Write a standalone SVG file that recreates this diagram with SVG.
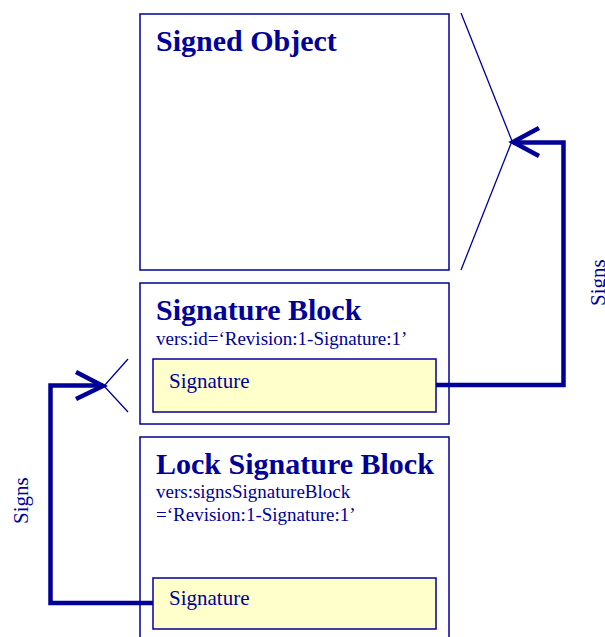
<svg xmlns="http://www.w3.org/2000/svg" width="605" height="637" viewBox="0 0 605 637">
<style>
.box{fill:#ffffff;stroke:#000099;stroke-width:1.5}
.sig{fill:#ffffcc;stroke:#000099;stroke-width:1.5}
.title{font-family:"Liberation Serif","Times New Roman",serif;font-weight:bold;font-size:30px;fill:#000099}
.sub{font-family:"Liberation Serif","Times New Roman",serif;font-size:19px;fill:#000099}
.lbl{font-family:"Liberation Serif","Times New Roman",serif;font-size:21px;fill:#000099}
.conn{fill:none;stroke:#000099;stroke-width:4.5;stroke-linejoin:miter}
.thin{fill:none;stroke:#000099;stroke-width:1.3}
</style>
<rect width="605" height="637" fill="#ffffff"/>
<g id="signed-object">
<rect class="box" x="140" y="14" width="309" height="256"/>
<text class="title" x="156" y="51">Signed Object</text>
</g>
<g id="signature-block">
<rect class="box" x="140" y="283" width="309" height="141"/>
<text class="title" x="156" y="320">Signature Block</text>
<text class="sub" x="156" y="345">vers:id=‘Revision:1-Signature:1’</text>
<g id="signature-1">
<rect class="sig" x="153" y="359" width="283" height="53"/>
<text class="lbl" x="169" y="388">Signature</text>
</g>
</g>
<g id="lock-signature-block">
<rect class="box" x="140" y="437" width="309" height="210"/>
<text class="title" x="156" y="474">Lock Signature Block</text>
<text class="sub" x="156" y="498">vers:signsSignatureBlock</text>
<text class="sub" x="156" y="521">=‘Revision:1-Signature:1’</text>
<g id="signature-2">
<rect class="sig" x="153" y="578" width="283" height="51"/>
<text class="lbl" x="169" y="605">Signature</text>
</g>
</g>
<g id="connectors">
<polyline class="thin" points="461,13 512,141 461,270"/>
<polyline class="conn" points="436,385 563.5,385 563.5,142.5 513,142.5"/>
<polyline class="conn" points="539,128 513,142 539,156"/>
<text class="lbl" transform="translate(605,306) rotate(-90)">Signs</text>
<polyline class="thin" points="128,359 104,386 128,412"/>
<polyline class="conn" points="153,603 50.5,603 50.5,385.5 103,385.5"/>
<polyline class="conn" points="76,372 103,386 76,399"/>
<text class="lbl" transform="translate(28,524) rotate(-90)">Signs</text>
</g>
</svg>
